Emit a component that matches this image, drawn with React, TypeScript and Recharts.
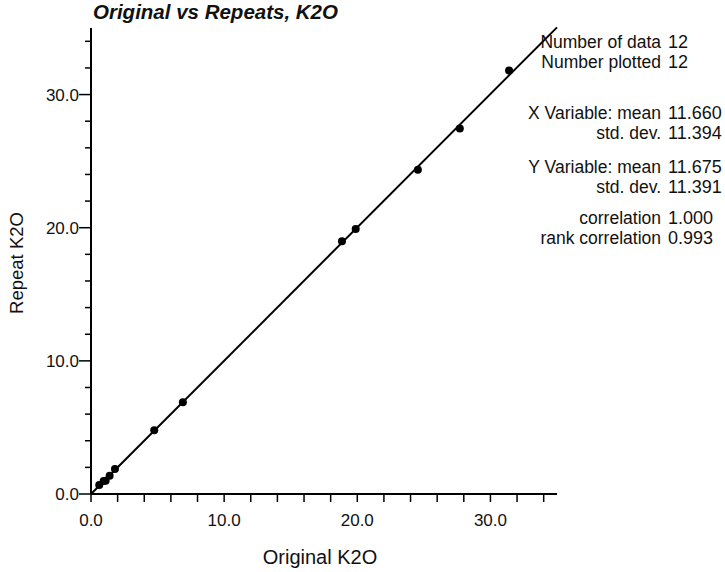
import { ScatterChart, Scatter, XAxis, YAxis, ReferenceLine } from "recharts";

// values
const originalK2O = [0.62, 0.95, 1.1, 1.4, 1.8, 4.75, 6.9, 18.85, 19.88, 24.55, 27.7, 31.4];
const repeatK2O = [0.67, 0.97, 1.0, 1.37, 1.87, 4.78, 6.9, 18.98, 19.9, 24.36, 27.46, 31.8];

const axisTicks = [0, 2, 4, 6, 8, 10, 12, 14, 16, 18, 20, 22, 24, 26, 28, 30, 32, 34];
const labelledTicks = [0, 10, 20, 30];

const statLabels = [
  "Number of data",
  "Number plotted",
  "X Variable: mean",
  "std. dev.",
  "Y Variable: mean",
  "std. dev.",
  "correlation",
  "rank correlation",
];
const statValues = ["12", "12", "11.660", "11.394", "11.675", "11.391", "1.000", "0.993"];
const statRows = [42, 62, 113, 133, 167, 187, 218, 238];

const FONT = "'Liberation Sans', Arial, Helvetica, sans-serif";

const points = originalK2O.map((x, i) => ({ x, y: repeatK2O[i] }));

// least squares fit through the points
const n = points.length;
const mx = originalK2O.reduce((a, b) => a + b, 0) / n;
const my = repeatK2O.reduce((a, b) => a + b, 0) / n;
let sxy = 0;
let sxx = 0;
points.forEach((p) => {
  sxy += (p.x - mx) * (p.y - my);
  sxx += (p.x - mx) * (p.x - mx);
});
const slope = sxy / sxx;
const intercept = my - slope * mx;

function XTick(props: any) {
  const { x, y, payload } = props;
  const major = labelledTicks.includes(payload.value);
  return (
    <g>
      <line x1={x} x2={x} y1={y} y2={y + 8} stroke="#000" strokeWidth={1.5} />
      {major && (
        <text x={x} y={y + 32} textAnchor="middle" fontSize={17} fontFamily={FONT} fill="#111">
          {payload.value.toFixed(1)}
        </text>
      )}
    </g>
  );
}

function YTick(props: any) {
  const { x, y, payload } = props;
  const major = labelledTicks.includes(payload.value);
  return (
    <g>
      <line x1={x - (major ? 12 : 6)} x2={x} y1={y} y2={y} stroke="#000" strokeWidth={1.5} />
      {major && (
        <text x={x - 12} y={y + 6} textAnchor="end" fontSize={17} fontFamily={FONT} fill="#111">
          {payload.value.toFixed(1)}
        </text>
      )}
    </g>
  );
}

export default function App() {
  return (
    <div style={{ position: "absolute", left: 0, top: 0, width: 725, height: 572, background: "#fff", fontFamily: FONT, color: "#111" }}>
      <ScatterChart width={725} height={572} margin={{ top: 28, right: 168, left: 0, bottom: 0 }}>
        <XAxis
          type="number"
          dataKey="x"
          domain={[0, 35]}
          ticks={axisTicks}
          allowDataOverflow
          height={78}
          tickSize={0}
          tickMargin={0}
          tickLine={false}
          axisLine={{ stroke: "#000", strokeWidth: 2 }}
          tick={<XTick />}
          interval={0}
        />
        <YAxis
          type="number"
          dataKey="y"
          domain={[0, 35]}
          ticks={axisTicks}
          allowDataOverflow
          width={91}
          tickSize={0}
          tickMargin={0}
          tickLine={false}
          axisLine={{ stroke: "#000", strokeWidth: 2 }}
          tick={<YTick />}
          interval={0}
        />
        <ReferenceLine
          segment={[
            { x: 0, y: intercept },
            { x: 35, y: intercept + slope * 35 },
          ]}
          stroke="#000"
          strokeWidth={2}
          ifOverflow="visible"
        />
        <Scatter
          data={points}
          isAnimationActive={false}
          shape={(p: any) => <circle cx={p.cx} cy={p.cy} r={4} fill="#000" />}
        />
      </ScatterChart>

      <div style={{ position: "absolute", left: 93, top: 0, fontSize: 20.5, lineHeight: "24px", fontWeight: "bold", fontStyle: "italic", whiteSpace: "nowrap" }}>
        Original vs Repeats, K2O
      </div>

      <div style={{ position: "absolute", left: 17, top: 263, fontSize: 18.5, whiteSpace: "nowrap", transform: "translate(-50%, -50%) rotate(-90deg)" }}>
        Repeat K2O
      </div>

      <div style={{ position: "absolute", left: 320, top: 557, fontSize: 20, whiteSpace: "nowrap", transform: "translate(-50%, -50%)" }}>
        Original K2O
      </div>

      {statLabels.map((label, i) => (
        <div key={i}>
          <div style={{ position: "absolute", right: 725 - 661, top: statRows[i] - 10, fontSize: 17.5, lineHeight: "20px", whiteSpace: "nowrap" }}>
            {label}
          </div>
          <div style={{ position: "absolute", left: 668, top: statRows[i] - 10, fontSize: 18, lineHeight: "20px", whiteSpace: "nowrap" }}>
            {statValues[i]}
          </div>
        </div>
      ))}
    </div>
  );
}
